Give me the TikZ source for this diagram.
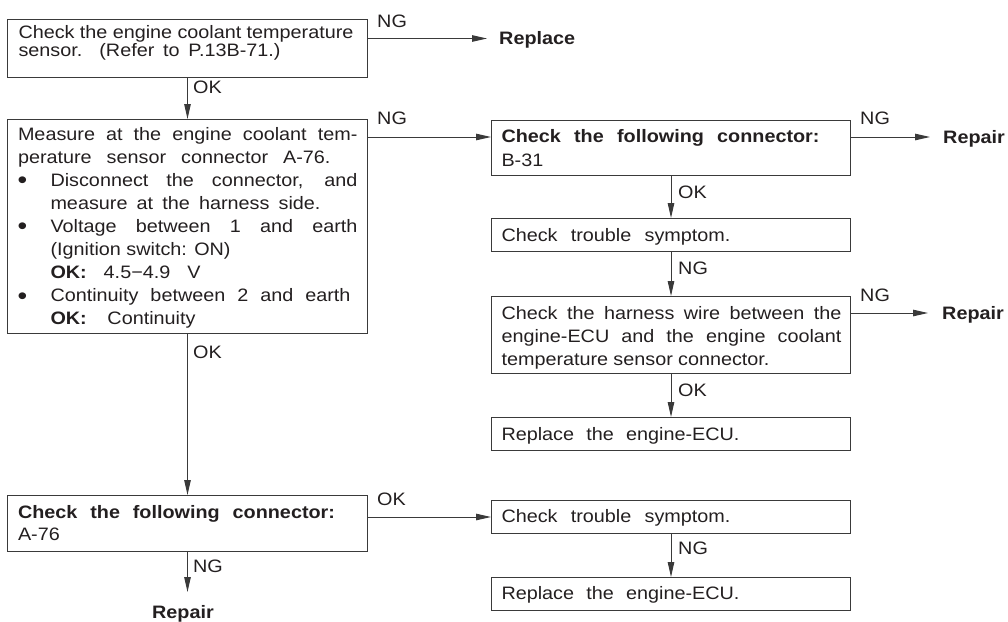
\documentclass[tikz,border=0pt]{standalone}
\usepackage{fontspec}
\setmainfont{Liberation Sans}[FakeStretch=1.1]
\usetikzlibrary{arrows.meta,calc}

\definecolor{ink}{HTML}{231F20}
\definecolor{rule}{HTML}{3A3A3A}

\newcommand{\basefont}{\fontsize{18}{22}\selectfont}
% body of a box: width, height, first baseline, baselineskip, rows
\newcommand{\boxbody}[5]{%
  \vbox to #2{\hsize=#1\relax\parindent=0pt
    \baselineskip=#4\relax\lineskiplimit=-100pt
    \hbox to #1{}\kern\dimexpr#3-#4\relax
    #5\vfil}}
% a row spread to a given width, and a row at its natural width
\newcommand{\rowj}[3]{\hbox{\hskip#1\relax\makebox[#2][s]{#3}}}
\newcommand{\rowl}[2]{\hbox{\hskip#1\relax #2}}
% a bulleted row
\newcommand{\bul}{\raisebox{-2.2pt}{\fontsize{25}{25}\selectfont •}}
\newcommand{\rowb}[2]{\hbox{\hskip10pt\makebox[33pt][l]{\bul}\makebox[#2][s]{#1}}}

\tikzset{
  bx/.style={draw=rule, line width=1pt, inner sep=0pt, anchor=north west, text=ink},
  lbl/.style={inner sep=0pt, text height=12.9pt, text depth=0pt, anchor=west, text=ink},
  res/.style={lbl, font=\basefont\bfseries},
  arr/.style={draw=rule, line width=1pt, -{Triangle[length=15pt,width=6.5pt]}},
}

\begin{document}
\begin{tikzpicture}[x=1pt,y=-1pt, font=\basefont]
\useasboundingbox (0,0) rectangle (1008,621);

% left column
\node[bx] (b1) at (7,19) {\boxbody{360pt}{58pt}{18.5pt}{18.5pt}{%
  \rowj{11pt}{335pt}{Check the engine coolant temperature}
  \rowj{11pt}{262pt}{sensor. (Refer to P.13B-71.)}}};

\node[bx] (b2) at (7,119) {\boxbody{360pt}{214pt}{20.6pt}{23.1pt}{%
  \rowj{10.5pt}{339.5pt}{Measure at the engine coolant tem-}
  \rowj{10.5pt}{312.5pt}{perature sensor connector A-76.}
  \rowb{Disconnect the connector, and}{307pt}
  \rowj{43pt}{270pt}{measure at the harness side.}
  \rowb{Voltage between 1 and earth}{307pt}
  \rowl{43pt}{(Ignition switch: ON)}
  \rowj{43pt}{150pt}{\textbf{OK:} 4.5−4.9 V}
  \rowb{Continuity between 2 and earth}{300pt}
  \rowj{43pt}{145pt}{\textbf{OK:} Continuity}}};

\node[bx] (b7) at (7,495) {\boxbody{360pt}{56pt}{23pt}{21.6pt}{%
  \rowj{10.5pt}{317pt}{\bfseries Check the following connector:}
  \rowl{10.5pt}{A-76}}};

% right column
\node[bx] (b3) at (491,120) {\boxbody{359pt}{55pt}{22.3pt}{23.3pt}{%
  \rowj{10pt}{318pt}{\bfseries Check the following connector:}
  \rowl{10pt}{B-31}}};

\node[bx] (b4) at (491,218) {\boxbody{359pt}{33pt}{22.6pt}{23pt}{%
  \rowj{10pt}{229pt}{Check trouble symptom.}}};

\node[bx] (b5) at (491,296) {\boxbody{359pt}{77pt}{22.5pt}{23.3pt}{%
  \rowj{10pt}{340pt}{Check the harness wire between the}
  \rowj{10pt}{340pt}{engine-ECU and the engine coolant}
  \rowj{10pt}{268pt}{temperature sensor connector.}}};

\node[bx] (b6) at (491,417) {\boxbody{359pt}{33pt}{23.3pt}{23pt}{%
  \rowj{10pt}{238pt}{Replace the engine-ECU.}}};

\node[bx] (b8) at (491,500) {\boxbody{359pt}{33pt}{22pt}{23pt}{%
  \rowj{10pt}{229pt}{Check trouble symptom.}}};

\node[bx] (b9) at (491,577) {\boxbody{359pt}{33pt}{21.6pt}{23pt}{%
  \rowj{10pt}{238pt}{Replace the engine-ECU.}}};

% end results
\node[res] (rpl) at (499,38.5) {Replace};
\node[res] (rep1) at (943,137.5) {Repair};
\node[res] (rep2) at (942,313) {Repair};
\node[res, anchor=north] (rep3) at (183,605.5) {Repair};

% branch labels
\node[lbl] (ng1) at (377,21) {NG};
\node[lbl] (ok1) at (193,87) {OK};
\node[lbl] (ng2) at (377,118) {NG};
\node[lbl] (ng3) at (860,118) {NG};
\node[lbl] (ok2) at (678,192) {OK};
\node[lbl] (ng4) at (678,268) {NG};
\node[lbl] (ng5) at (860,295) {NG};
\node[lbl] (ok3) at (678,390) {OK};
\node[lbl] (ok4) at (193,352) {OK};
\node[lbl] (ok5) at (377,499) {OK};
\node[lbl] (ng6) at (193,566) {NG};
\node[lbl] (ng7) at (678,548) {NG};

% connector levels taken from the boxes
\coordinate (p2) at ($(b3.north west)+(0,17)$);
\coordinate (p3) at ($(b3.north east)+(0,17)$);
\coordinate (p5) at ($(b5.north east)+(0,17)$);

% connectors
\draw[arr, shorten >=12pt] (b1.east |- rpl.west) -- (rpl.west);
\draw[arr] (b1.south) -- (b2.north);
\draw[arr] (b2.east |- p2) -- (p2);
\draw[arr] (b2.south) -- (b7.north);
\draw[arr, shorten >=13pt] (p3) -- (p3 -| rep1.west);
\draw[arr] (b3.south) -- (b4.north);
\draw[arr] (b4.south) -- (b5.north);
\draw[arr, shorten >=14pt] (p5) -- (p5 -| rep2.west);
\draw[arr] (b5.south) -- (b6.north);
\draw[arr] (b7.east |- b8.west) -- (b8.west);
\draw[arr] (b8.south) -- (b9.north);
\draw[arr, shorten >=13.5pt] (b7.south) -- (b7.south |- rep3.north);
\end{tikzpicture}
\end{document}
